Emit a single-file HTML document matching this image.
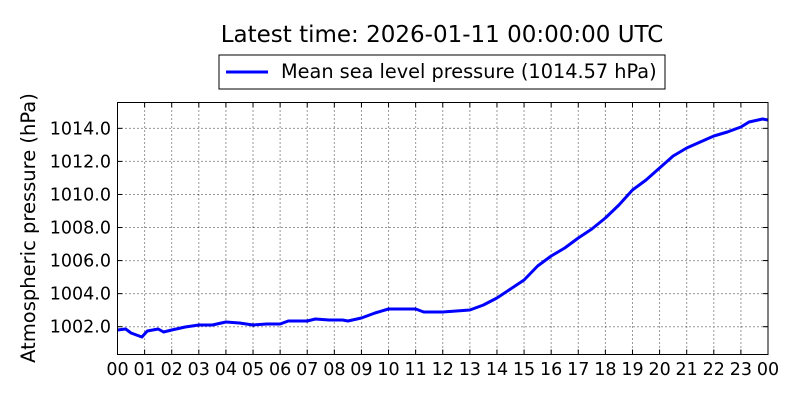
<!DOCTYPE html>
<html><head><style>body{margin:0;background:#fff}svg{font-family:"DejaVu Sans","Liberation Sans",sans-serif}</style></head><body>
<svg width="800" height="400" xmlns="http://www.w3.org/2000/svg">
<rect width="800" height="400" fill="#fff"/>
<text x="442" y="42" font-size="23" text-anchor="middle">Latest time: 2026-01-11 00:00:00 UTC</text>
<rect x="219" y="55" width="446" height="34" fill="#fff" stroke="#000" stroke-width="1"/>
<line x1="226" y1="72" x2="268" y2="72" stroke="#00f" stroke-width="3"/>
<text x="281" y="78" font-size="19.3">Mean sea level pressure (1014.57 hPa)</text>
<text transform="translate(35,228) rotate(-90)" font-size="19.5" text-anchor="middle">Atmospheric pressure (hPa)</text>
<g id="grid" stroke="#000" stroke-width="1" stroke-dasharray="1,3" opacity="0.8"></g>
<g id="ticks" stroke="#000"></g>
<g id="lbl" font-size="17.5"></g>
<polyline id="data" fill="none" stroke="#00f" stroke-width="3" stroke-linejoin="round"/>
<rect x="117.5" y="102.5" width="650.5" height="252" fill="none" stroke="#000" stroke-width="1"/>
<script>
var L=117.5,R=768,T=102.5,B=354.5,dx=(R-L)/24;
function yv(p){return 326.7-(p-1002)*16.53}
var g=document.getElementById('grid'),t=document.getElementById('ticks'),lb=document.getElementById('lbl'),ns='http://www.w3.org/2000/svg';
function el(p,tag,a,txt){var e=document.createElementNS(ns,tag);for(var k in a)e.setAttribute(k,a[k]);if(txt)e.textContent=txt;p.appendChild(e);}
for(var h=0;h<=24;h++){var x=L+h*dx;
 if(h>0&&h<24)el(g,'line',{x1:x,y1:T,x2:x,y2:B});
 el(t,'line',{x1:x,y1:B,x2:x,y2:B-5});el(t,'line',{x1:x,y1:T,x2:x,y2:T+5});
 el(lb,'text',{x:x,y:375,'text-anchor':'middle'},String(h%24).padStart(2,'0'));}
for(var p=1002;p<=1014;p+=2){var y=yv(p);
 el(g,'line',{x1:L,y1:y,x2:R,y2:y});
 el(t,'line',{x1:L,y1:y,x2:L+5,y2:y});el(t,'line',{x1:R,y1:y,x2:R-5,y2:y});
 el(lb,'text',{x:111,y:y+6,'text-anchor':'end'},p.toFixed(1));}
var d=[[0,330],[0.3,329],[0.5,333],[0.9,337],[1.1,331],[1.5,329],[1.7,332],[2,330],[2.5,327],[3,325],[3.5,325],[4,322],[4.5,323],[5,325],[5.5,324],[6,324],[6.3,321],[6.6,321],[7,321],[7.3,319],[7.8,320],[8.3,320],[8.5,321],[9,318],[9.5,313],[10,309],[10.5,309],[11,309],[11.3,312],[12,312],[12.5,311],[13,310],[13.5,305],[14,298],[14.5,289],[15,280],[15.5,266],[16,256],[16.5,248],[17,238],[17.5,229],[18,218],[18.5,205],[19,190],[19.5,180],[20,168],[20.5,156],[21,148],[21.5,142],[22,136],[22.5,132],[23,127],[23.3,122],[23.8,119],[24,120]];
document.getElementById('data').setAttribute('points',d.map(function(a){return (L+a[0]*dx)+','+a[1]}).join(' '));
</script>
</svg>
</body></html>
